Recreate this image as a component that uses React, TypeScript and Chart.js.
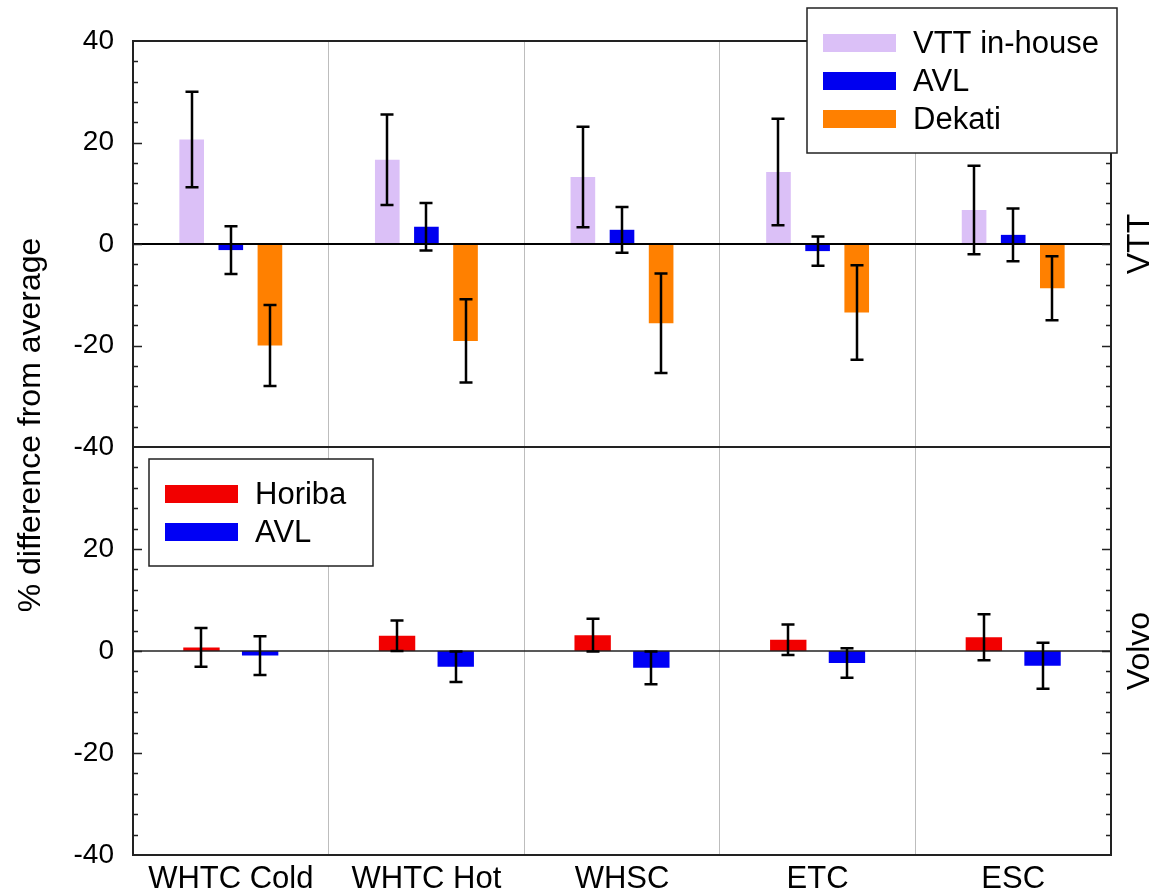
import React, { useEffect, useRef } from 'react';
import { Chart, registerables } from 'chart.js';

Chart.register(...registerables);

// ---------- data ----------
const categories = ['WHTC Cold', 'WHTC Hot', 'WHSC', 'ETC', 'ESC'];

// VTT panel
const vttInHouse = [20.6, 16.6, 13.2, 14.2, 6.7];
const vttInHouseErr = [9.4, 8.9, 9.9, 10.5, 8.7];
const vttAvl = [-1.2, 3.4, 2.8, -1.4, 1.8];
const vttAvlErr = [4.7, 4.7, 4.5, 2.9, 5.2];
const vttDekati = [-20.0, -19.1, -15.6, -13.5, -8.7];
const vttDekatiErr = [8.0, 8.2, 9.8, 9.3, 6.3];

// Volvo panel
const volvoHoriba = [0.7, 3.0, 3.1, 2.2, 2.7];
const volvoHoribaErr = [3.8, 3.0, 3.2, 3.0, 4.5];
const volvoAvl = [-0.9, -3.1, -3.3, -2.35, -2.9];
const volvoAvlErr = [3.8, 3.0, 3.2, 2.9, 4.5];

const yTicksMin = -40;
const yTicksMax = 40;
const yTickStep = 20;
const yMinorStep = 4;

const yTitle = '% difference from average';
const panelLabels = ['VTT', 'Volvo'];

const FONT = "'Liberation Sans', Arial, Helvetica, sans-serif";

type PanelCfg = {
  panelLabel: string;
  legendBox: { x: number; y: number; w: number; h: number };
  legendFirstY: number;
  zeroWidth: number;
  zeroColor: string;
  drawYTitle: boolean;
};

// ---------- plugin: frame, zero line, error bars, legend, titles ----------
const overlayPlugin = {
  id: 'overlay',
  afterDatasetsDraw(chart: any, _args: any, opts: PanelCfg) {
    const { ctx, chartArea: ca, scales } = chart;
    const ys = scales.y;
    ctx.save();

    // zero line
    ctx.strokeStyle = opts.zeroColor;
    ctx.lineWidth = opts.zeroWidth;
    const z = ys.getPixelForValue(0);
    ctx.beginPath(); ctx.moveTo(ca.left, z); ctx.lineTo(ca.right, z); ctx.stroke();

    // error bars
    ctx.strokeStyle = '#000';
    ctx.lineWidth = 2.5;
    chart.data.datasets.forEach((ds: any, i: number) => {
      const meta = chart.getDatasetMeta(i);
      meta.data.forEach((el: any, j: number) => {
        const v = ds.data[j];
        const e = ds.errorBars[j];
        const x = Math.round(el.x);
        const y1 = ys.getPixelForValue(v + e);
        const y2 = ys.getPixelForValue(v - e);
        const cap = 6.5;
        ctx.beginPath();
        ctx.moveTo(x, y1); ctx.lineTo(x, y2);
        ctx.moveTo(x - cap, y1); ctx.lineTo(x + cap, y1);
        ctx.moveTo(x - cap, y2); ctx.lineTo(x + cap, y2);
        ctx.stroke();
      });
    });

    // inside ticks (left and right)
    ctx.strokeStyle = '#222';
    ctx.lineWidth = 1.5;
    for (let v = yTicksMin + yMinorStep; v < yTicksMax; v += yMinorStep) {
      const len = v % yTickStep === 0 ? 9 : 5;
      const py = Math.round(ys.getPixelForValue(v)) + 0.5;
      ctx.beginPath();
      ctx.moveTo(ca.left, py); ctx.lineTo(ca.left + len, py);
      ctx.moveTo(ca.right, py); ctx.lineTo(ca.right - len, py);
      ctx.stroke();
    }

    // frame
    ctx.strokeStyle = '#222';
    ctx.lineWidth = 2;
    ctx.strokeRect(ca.left, ca.top, ca.right - ca.left, ca.bottom - ca.top);
    ctx.restore();
  },
  afterDraw(chart: any, _args: any, opts: PanelCfg) {
    const { ctx, scales } = chart;
    ctx.save();

    // legend
    const box = opts.legendBox;
    ctx.fillStyle = '#fff';
    ctx.fillRect(box.x, box.y, box.w, box.h);
    ctx.strokeStyle = '#222';
    ctx.lineWidth = 1.5;
    ctx.strokeRect(box.x, box.y, box.w, box.h);
    ctx.font = `31px ${FONT}`;
    ctx.textBaseline = 'middle';
    ctx.textAlign = 'left';
    chart.data.datasets.forEach((ds: any, k: number) => {
      const cy = opts.legendFirstY + k * 38;
      ctx.fillStyle = ds.backgroundColor;
      ctx.fillRect(box.x + 16, cy - 9, 73, 18);
      ctx.fillStyle = '#000';
      ctx.fillText(ds.label, box.x + 106, cy + 1);
    });

    ctx.fillStyle = '#000';
    ctx.font = `32px ${FONT}`;
    ctx.textAlign = 'center';
    ctx.textBaseline = 'alphabetic';

    // y title
    if (opts.drawYTitle) {
      ctx.save();
      ctx.translate(40, 425);
      ctx.rotate(-Math.PI / 2);
      ctx.fillText(yTitle, 0, 0);
      ctx.restore();
    }

    // panel label on the right
    ctx.save();
    ctx.translate(1149, scales.y.getPixelForValue(0));
    ctx.rotate(-Math.PI / 2);
    ctx.fillText(opts.panelLabel, 0, 0);
    ctx.restore();
    ctx.restore();
  },
};

function makeChart(canvas: HTMLCanvasElement, datasets: any[], isBottom: boolean, cfg: PanelCfg) {
  return new Chart(canvas, {
    type: 'bar',
    data: { labels: categories, datasets },
    options: {
      animation: false,
      responsive: false,
      devicePixelRatio: 1,
      layout: { padding: isBottom ? { left: 0, right: 46, top: 447, bottom: 0 } : { left: 0, right: 46, top: 41, bottom: 448 } },
      plugins: { legend: { display: false }, tooltip: { enabled: false }, overlay: cfg },
      scales: {
        x: {
          type: 'category',
          position: 'bottom',
          grid: { display: true, offset: true, color: '#BDBDBD', lineWidth: 1, drawTicks: false },
          border: { display: false },
          ticks: { display: isBottom, color: '#000', font: { family: FONT, size: 31 }, padding: 6, maxRotation: 0, autoSkip: false },
          afterFit: (s: any) => { s.height = isBottom ? 40 : 0; },
        },
        y: {
          type: 'linear',
          position: 'left',
          min: yTicksMin,
          max: yTicksMax,
          grid: { display: false, drawTicks: false },
          border: { display: false },
          ticks: {
            stepSize: yTickStep,
            color: '#000',
            font: { family: FONT, size: 28 },
            padding: 19,
            callback: (v: any) => (isBottom && v === yTicksMax ? '' : String(v)),
          },
          afterFit: (s: any) => { s.width = 133; },
        },
      },
    } as any,
    plugins: [overlayPlugin],
  });
}

export default function App() {
  const topRef = useRef<HTMLCanvasElement | null>(null);
  const botRef = useRef<HTMLCanvasElement | null>(null);

  useEffect(() => {
    if (!topRef.current || !botRef.current) return;
    const topBar = { categoryPercentage: 0.6, barPercentage: 0.63 };
    const botBar = { categoryPercentage: 0.6, barPercentage: 0.62 };
    const top = makeChart(
      topRef.current,
      [
        { label: 'VTT in-house', data: vttInHouse, errorBars: vttInHouseErr, backgroundColor: '#DBC0F7', ...topBar },
        { label: 'AVL', data: vttAvl, errorBars: vttAvlErr, backgroundColor: '#0000F0', ...topBar },
        { label: 'Dekati', data: vttDekati, errorBars: vttDekatiErr, backgroundColor: '#FF8000', ...topBar },
      ],
      false,
      {
        panelLabel: panelLabels[0],
        legendBox: { x: 807, y: 8, w: 310, h: 145 },
        legendFirstY: 43,
        zeroWidth: 2,
        zeroColor: '#000',
        drawYTitle: false,
      }
    );
    const bottom = makeChart(
      botRef.current,
      [
        { label: 'Horiba', data: volvoHoriba, errorBars: volvoHoribaErr, backgroundColor: '#F20000', ...botBar },
        { label: 'AVL', data: volvoAvl, errorBars: volvoAvlErr, backgroundColor: '#0000F5', ...botBar },
      ],
      true,
      {
        panelLabel: panelLabels[1],
        legendBox: { x: 149, y: 459, w: 224, h: 107 },
        legendFirstY: 494,
        zeroWidth: 1.5,
        zeroColor: '#222',
        drawYTitle: true,
      }
    );
    return () => {
      top.destroy();
      bottom.destroy();
    };
  }, []);

  const canvasStyle: React.CSSProperties = { position: 'absolute', left: 0, top: 0, width: 1157, height: 895, display: 'block' };
  return (
    <div style={{ position: 'fixed', left: 0, top: 0, width: 1157, height: 895, background: '#fff' }}>
      <canvas ref={topRef} width={1157} height={895} style={canvasStyle} />
      <canvas ref={botRef} width={1157} height={895} style={canvasStyle} />
    </div>
  );
}
